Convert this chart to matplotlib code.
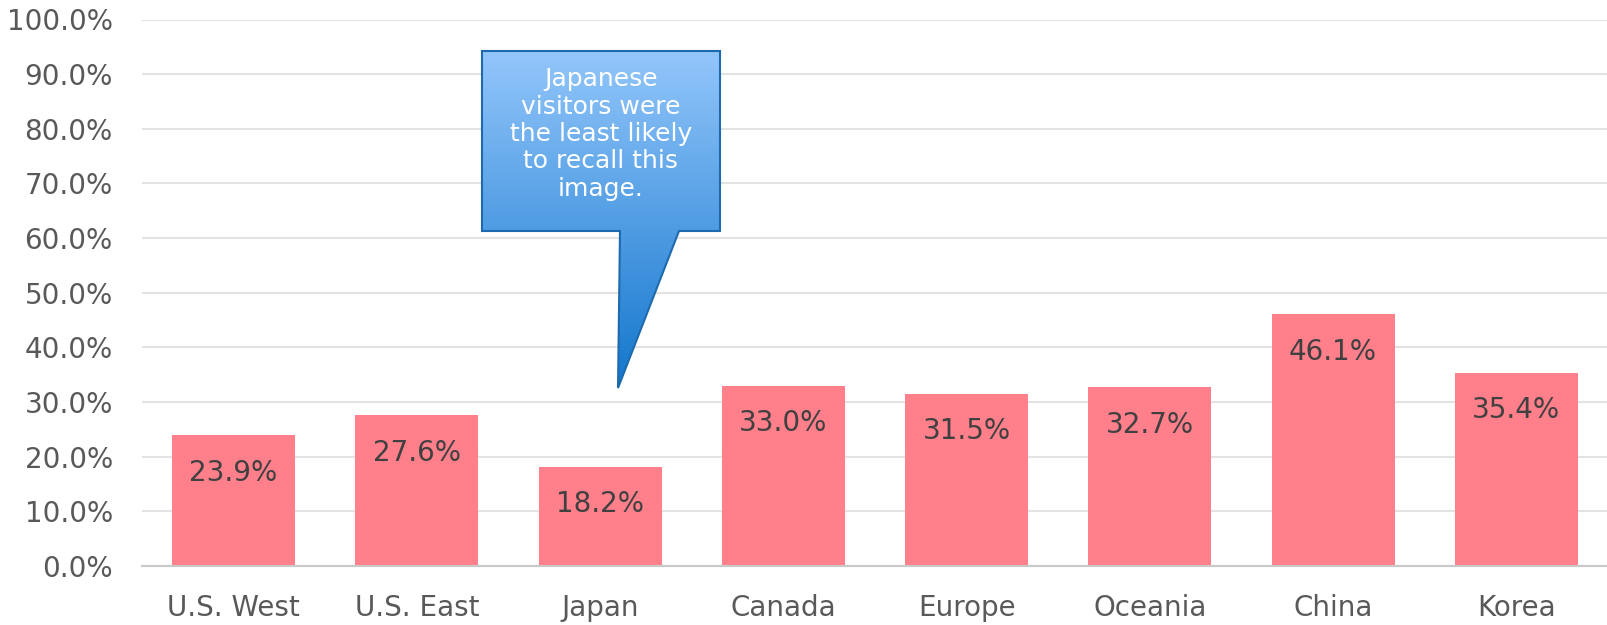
import numpy as np
import matplotlib
matplotlib.use("Agg")
import matplotlib.pyplot as plt
from matplotlib.patches import Polygon
from matplotlib.ticker import FuncFormatter

categories = ["U.S. West", "U.S. East", "Japan", "Canada", "Europe", "Oceania", "China", "Korea"]
values = [23.9, 27.6, 18.2, 33.0, 31.5, 32.7, 46.1, 35.4]
yticks = [0, 10, 20, 30, 40, 50, 60, 70, 80, 90, 100]
callout_text = "Japanese\nvisitors were\nthe least likely\nto recall this\nimage."

plt.rcParams['font.family'] = ['DejaVu Sans']

W, H = 1608, 625
fig = plt.figure(figsize=(W / 100, H / 100), dpi=100)
ax = fig.add_axes([142 / W, 59 / H, (W - 142) / W, (566 - 19.5) / H])

x = np.arange(len(categories))
bars = ax.bar(x, values, width=0.67, color="#FF7F8B", zorder=2)
ax.set_xlim(-0.5, len(categories) - 0.5)
ax.set_ylim(0, 100)
ax.set_yticks(yticks)
ax.yaxis.set_major_formatter(FuncFormatter(lambda v, p: f"{v:.1f}%"))
ax.set_xticks(x)
ax.set_xticklabels(categories)
ax.tick_params(axis='both', length=0, labelsize=20, colors="#595959")
ax.tick_params(axis='y', pad=21)
ax.tick_params(axis='x', pad=20)
ax.grid(axis='y', color="#E3E3E3", linewidth=1.5, zorder=0)
for s in ['top', 'right', 'left']:
    ax.spines[s].set_visible(False)
ax.spines['bottom'].set_color("#C8C8C8")
ax.spines['bottom'].set_linewidth(1.5)
ax.spines['bottom'].set_zorder(3)

for xi, v in zip(x, values):
    ax.annotate(f"{v:.1f}%", (xi, v), xytext=(0, -17), textcoords="offset points",
                ha='center', va='top', fontsize=20, color="#404040", zorder=4)

# Callout overlay in pixel coordinates
ov = fig.add_axes([0, 0, 1, 1], facecolor='none')
ov.set_xlim(0, W)
ov.set_ylim(H, 0)
ov.axis('off')
pts = [(482, 51), (720, 51), (720, 231), (679, 231), (618, 388), (620, 231), (482, 231)]
poly = Polygon(pts, closed=True, facecolor='none', edgecolor="#1F6AAE", linewidth=1.5, zorder=5)
ov.add_patch(poly)
top = np.array([0x93, 0xC6, 0xFB]) / 255
bot = np.array([0x12, 0x76, 0xCC]) / 255
t = np.linspace(0, 1, 256)[:, None]
grad = (top[None, :] * (1 - t) + bot[None, :] * t)[:, None, :]
img = ov.imshow(grad, extent=(482, 720, 388, 51), aspect='auto', zorder=4, interpolation='bicubic')
clip = Polygon(pts, closed=True, transform=ov.transData, facecolor='none', edgecolor='none')
ov.add_patch(clip)
img.set_clip_path(clip)
ov.text(601, 134, callout_text, ha='center', va='center', fontsize=18, color='white',
        linespacing=1.18, zorder=6)

fig.savefig("out.png", dpi=100)
